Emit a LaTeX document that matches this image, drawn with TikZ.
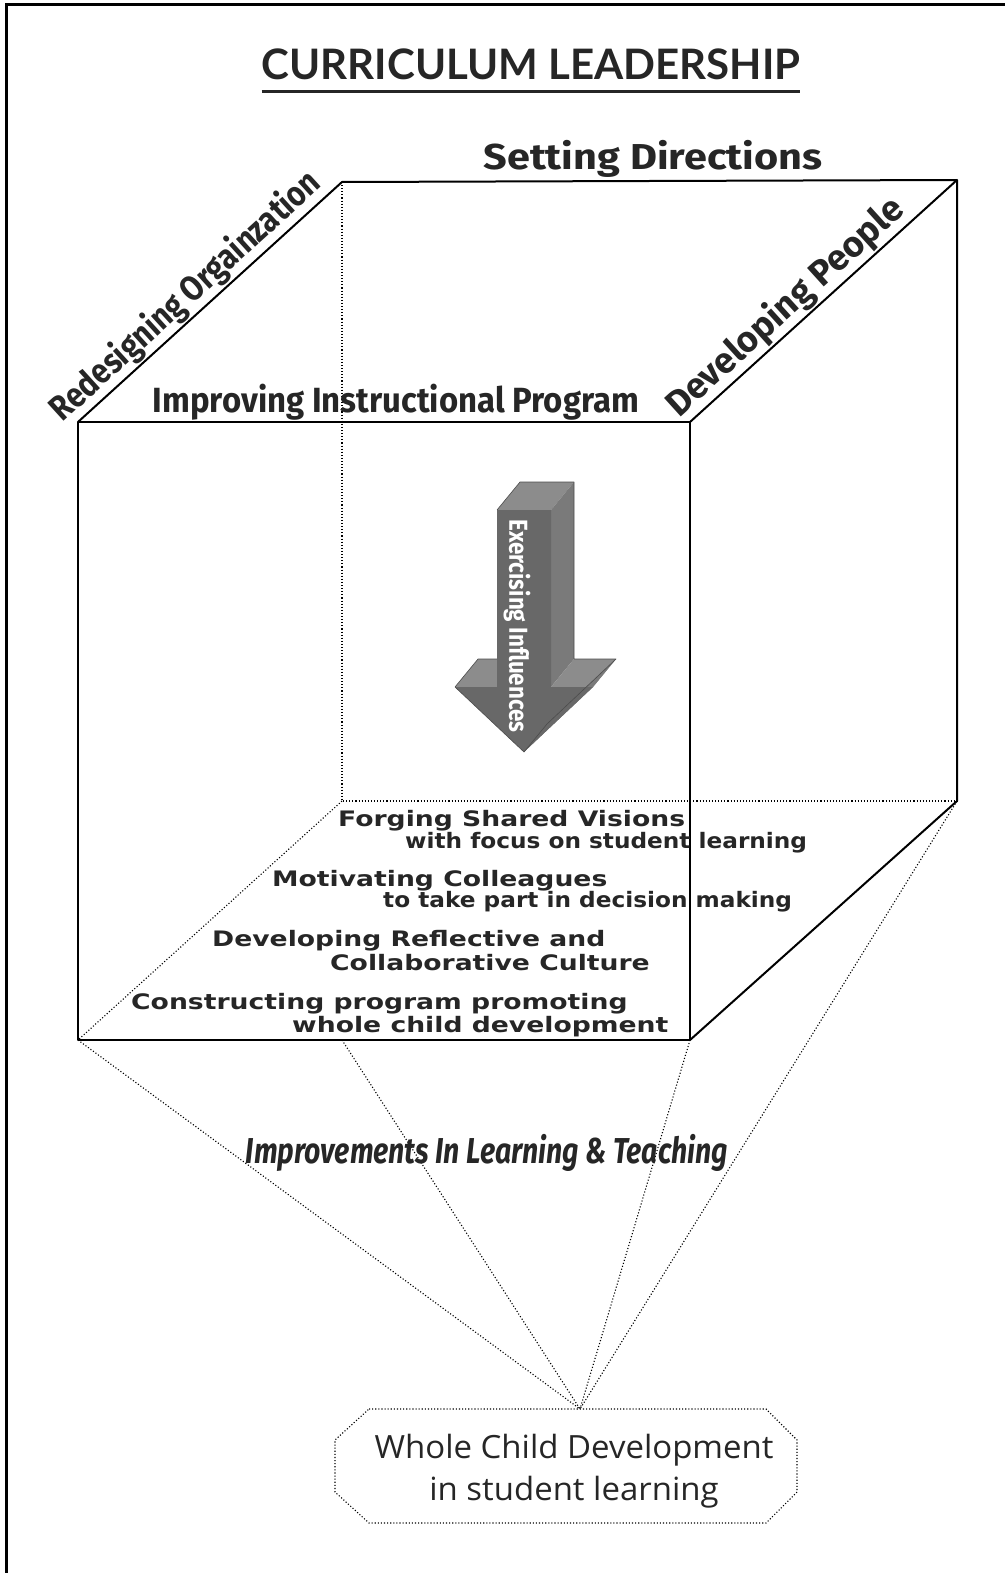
\documentclass[tikz,border=0pt]{standalone}
\usepackage{fontspec}
\usepackage{xcolor}
\usepackage{tikz}

\newfontfamily\titlefont{Lato}
\newfontfamily\labelfont{Fira Sans}
\newfontfamily\narrowfont{Fira Sans}[FakeStretch=0.79]
\newfontfamily\itemfont{DejaVu Sans}[FakeStretch=1.25]
\newfontfamily\itemnarrow{DejaVu Sans}[FakeStretch=1.09]
\newfontfamily\goalfont{Open Sans}[FakeStretch=1.03]

\definecolor{arrowfront}{RGB}{104,104,104}
\definecolor{arrowtop}{RGB}{140,140,140}
\definecolor{arrowside}{RGB}{122,122,122}

\begin{document}
\begin{tikzpicture}[x=1pt,y=-1pt,
    cubeedge/.style={line width=2pt, line join=round},
    hidden/.style={line width=1.1pt, dotted},
    facelabel/.style={font=\labelfont\bfseries, text=black!85, inner sep=2pt},
    item/.style={font=\itemfont\bfseries\fontsize{21.3}{21}\selectfont, text=black!85, anchor=base west, inner sep=0},
    itemtail/.style={item, font=\itemnarrow\bfseries\fontsize{21.3}{21}\selectfont}]
    \useasboundingbox (0,0) rectangle (1005,1573);
    % page frame
    \draw[line width=3pt] (6,1573) -- (6,5) -- (1005,5);

    % title
    \node[font=\titlefont\bfseries\fontsize{42}{42}\selectfont, text=black!85, anchor=base, inner sep=0] (title) at (531,80) {CURRICULUM LEADERSHIP};
    \draw[line width=3pt, black!85] ([yshift=-12pt]title.base west) -- ([yshift=-12pt]title.base east);

    % cube corners
    \coordinate (ftl) at (78,422);
    \coordinate (ftr) at (690,422);
    \coordinate (fbl) at (78,1040);
    \coordinate (fbr) at (690,1040);
    \coordinate (btl) at (342,182);
    \coordinate (btr) at (957,180);
    \coordinate (bbl) at (342,801);
    \coordinate (bbr) at (957,801);
    \coordinate (fbm) at (342,1040);
    \coordinate (apex) at (580,1409);

    % hidden edges
    \draw[hidden] (btl) -- (bbl) -- (bbr);
    \draw[hidden] (bbl) -- (fbl);
    % lines down to the goal
    \foreach \c in {fbl,fbm,fbr,bbr}
        \draw[hidden] (\c) -- (apex);

    % visible edges
    \draw[cubeedge] (ftl) -- (btl) -- (btr) -- (ftr);
    \draw[cubeedge] (btr) -- (bbr) -- (fbr);
    \draw[cubeedge] (ftl) rectangle (fbr);

    % labels on the top face
    \node[facelabel, anchor=base] (setting) at (653,170)
        {\fontsize{36}{36}\selectfont\addfontfeature{FakeStretch=1.15}Setting Directions};
    \node[facelabel, anchor=base] (improving) at (396,412)
        {\fontsize{35}{35}\selectfont\addfontfeature{FakeStretch=0.94}Improving Instructional Program};
    \path (ftl) -- (btl) node[pos=0.46, sloped, above, facelabel] (redesign)
        {\fontsize{35}{35}\selectfont\addfontfeature{FakeStretch=0.86}Redesigning Orgainzation};
    \path (ftr) -- (btr) node[pos=0.41, sloped, above, facelabel] (people)
        {\fontsize{36}{36}\selectfont\addfontfeature{FakeStretch=1.0}Developing People};

    % block arrow
    \fill[arrowtop] (497,510) -- (520,482) -- (574,482) -- (551,510) -- cycle;
    \fill[arrowside] (551,510) -- (574,482) -- (574,659) -- (551,687) -- cycle;
    \fill[arrowtop] (455,687) -- (478,659) -- (520,659) -- (497,687) -- cycle;
    \fill[arrowtop] (551,687) -- (574,659) -- (616,659) -- (593,687) -- cycle;
    \fill[arrowside] (593,687) -- (616,659) -- (547,724) -- (524,752) -- cycle;
    \fill[arrowfront] (497,510) -- (551,510) -- (551,687) -- (593,687) -- (524,752) -- (455,687) -- (497,687) -- cycle;
    \draw[black!70, line width=0.6pt, line join=round] (497,510) -- (520,482) -- (574,482) -- (574,659) -- (616,659) -- (547,724) -- (524,752) -- (455,687) -- (478,659) -- (497,659);
    \node[rotate=-90, font=\labelfont\bfseries\fontsize{26}{26}\selectfont\addfontfeature{FakeStretch=0.86}, text=white] (influence) at (517,626) {Exercising Influences};

    % bottom face items
    \node[item] (forge) at (338,826) {Forging Shared Visions};
    \node[itemtail] (forge2) at (405,848) {with focus on student learning};
    \node[item] (motive) at (272,886) {Motivating Colleagues};
    \node[itemtail] (motive2) at (383,907) {to take part in decision making};
    \node[item] (reflect) at (212,946) {Developing Reflective and};
    \node[item] (reflect2) at (330,970) {Collaborative Culture};
    \node[item] (program) at (131,1009) {Constructing program promoting};
    \node[item] (program2) at (292,1032) {whole child development};

    \node[font=\narrowfont\bfseries\itshape\fontsize{36}{36}\selectfont, text=black!85, anchor=base] (improve) at (487,1163) {Improvements In Learning \& Teaching};

    % goal box
    \draw[hidden] (369,1409) -- (766,1409) -- (797,1440) -- (797,1492) -- (766,1523) -- (369,1523) -- (335,1492) -- (335,1440) -- cycle;
    \node[font=\goalfont\fontsize{32}{42}\selectfont, text=black!85, align=center] (goal) at (574,1471) {Whole Child Development\\in student learning};
\end{tikzpicture}
\end{document}
